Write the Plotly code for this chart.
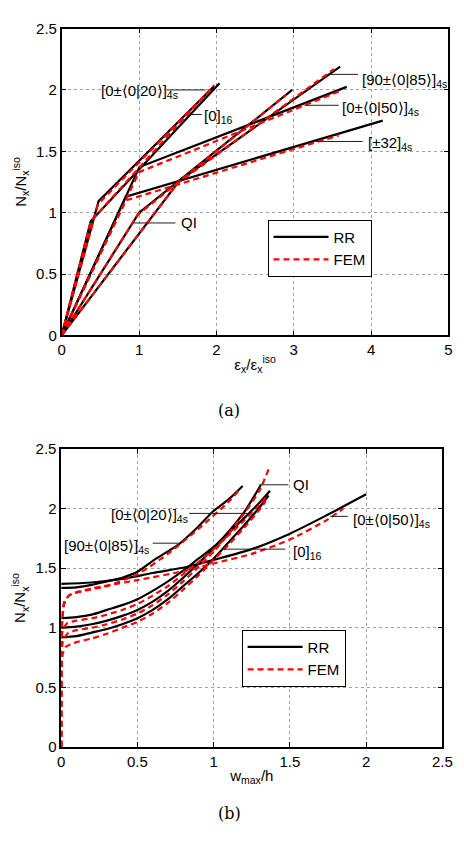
import plotly.graph_objects as go

# ---------------- data: panel (a)  N_x/N_x^iso vs eps_x/eps_x^iso ----------------
a_names = ["[0]16", "[0±20]4s", "[0±50]4s", "[±32]4s", "QI", "[90±85]4s"]
a_rr_x = [[0, 0.375, 2.04], [0, 0.477, 1.97], [0, 1.005, 3.685], [0, 0.83, 4.15], [0, 1.0, 2.98], [0, 1.52, 3.6]]
a_rr_y = [[0, 0.93, 2.055], [0, 1.094, 2.03], [0, 1.372, 2.025], [0, 1.13, 1.75], [0, 1.0, 2.0], [0, 1.26, 2.19]]
a_fem_x = [[0, 0.375, 1.97], [0, 0.47, 1.95], [0, 1.0, 3.63], [0, 0.83, 3.58], [0, 0.98, 2.9], [0, 1.5, 3.52]]
a_fem_y = [[0, 0.93, 2.04], [0, 1.07, 2.02], [0, 1.33, 2.0], [0, 1.10, 1.63], [0, 0.98, 1.96], [0, 1.24, 2.17]]

# ---------------- data: panel (b)  N_x/N_x^iso vs w_max/h ----------------
b_names = ["[90±85]4s", "[0±50]4s", "QI", "[0±20]4s", "[0]16"]
b_rr_x = [
    [0, 0.1, 0.2, 0.3, 0.4, 0.5, 0.61, 0.77, 0.9, 0.99, 1.1, 1.19],
    [0, 0.2, 0.4, 0.6, 0.82, 1.0, 1.25, 1.5, 1.75, 2.0],
    [0, 0.1, 0.2, 0.3, 0.4, 0.5, 0.6, 0.7, 0.8, 0.9, 1.0, 1.1, 1.2, 1.31],
    [0, 0.1, 0.2, 0.3, 0.4, 0.5, 0.6, 0.7, 0.8, 0.9, 1.0, 1.1, 1.2, 1.3, 1.37],
    [0, 0.1, 0.2, 0.3, 0.4, 0.5, 0.6, 0.7, 0.8, 0.9, 1.0, 1.1, 1.2, 1.3, 1.36],
]
b_rr_y = [
    [1.335, 1.34, 1.36, 1.39, 1.42, 1.47, 1.57, 1.70, 1.85, 1.97, 2.08, 2.19],
    [1.368, 1.38, 1.41, 1.46, 1.51, 1.57, 1.66, 1.79, 1.95, 2.12],
    [1.0, 1.01, 1.03, 1.06, 1.10, 1.15, 1.22, 1.31, 1.42, 1.54, 1.67, 1.81, 1.97, 2.2],
    [1.08, 1.09, 1.11, 1.15, 1.19, 1.24, 1.31, 1.39, 1.48, 1.58, 1.68, 1.80, 1.92, 2.05, 2.15],
    [0.92, 0.93, 0.96, 0.99, 1.03, 1.08, 1.15, 1.24, 1.35, 1.46, 1.58, 1.72, 1.86, 2.01, 2.11],
]
b_fem_x = [
    [0, 0.002, 0.01, 0.02, 0.05, 0.15, 0.3, 0.5, 0.7, 0.9, 1.1, 1.17],
    [0, 0.002, 0.01, 0.02, 0.06, 0.2, 0.5, 0.82, 1.0, 1.25, 1.5, 1.75, 1.85],
    [0, 0.002, 0.01, 0.04, 0.1, 0.2, 0.3, 0.4, 0.5, 0.6, 0.7, 0.8, 0.9, 1.0, 1.1, 1.2, 1.3, 1.36],
    [0, 0.002, 0.01, 0.04, 0.1, 0.2, 0.3, 0.4, 0.5, 0.6, 0.7, 0.8, 0.9, 1.0, 1.1, 1.2, 1.3, 1.36],
    [0, 0.002, 0.01, 0.03, 0.1, 0.2, 0.3, 0.4, 0.5, 0.6, 0.7, 0.8, 0.9, 1.0, 1.1, 1.2, 1.3, 1.34],
]
b_fem_y = [
    [0, 0.9, 1.1, 1.2, 1.27, 1.31, 1.35, 1.45, 1.62, 1.83, 2.06, 2.16],
    [0, 1.0, 1.15, 1.22, 1.28, 1.33, 1.40, 1.48, 1.54, 1.62, 1.74, 1.91, 2.0],
    [0, 0.7, 0.88, 0.95, 0.98, 1.0, 1.03, 1.07, 1.12, 1.19, 1.28, 1.39, 1.51, 1.64, 1.79, 1.96, 2.15, 2.33],
    [0, 0.8, 0.98, 1.04, 1.06, 1.08, 1.11, 1.15, 1.20, 1.27, 1.35, 1.45, 1.55, 1.66, 1.78, 1.90, 2.03, 2.12],
    [0, 0.6, 0.78, 0.84, 0.88, 0.91, 0.95, 1.0, 1.05, 1.12, 1.21, 1.32, 1.44, 1.57, 1.70, 1.84, 1.99, 2.06],
]

FONT = "Liberation Sans, Arial, Helvetica, sans-serif"
BLACK = "#000000"
RED = "#ff0000"

fig = go.Figure()

def add_panel(xs_rr, ys_rr, xs_fem, ys_fem, xa, ya, legend, shape):
    for i, (x, y) in enumerate(zip(xs_rr, ys_rr)):
        fig.add_trace(go.Scatter(x=x, y=y, mode="lines", xaxis=xa, yaxis=ya,
                                 line=dict(color=BLACK, width=2.2, shape=shape, smoothing=0.8),
                                 name="RR", legend=legend, showlegend=(i == 0), hoverinfo="skip"))
    for i, (x, y) in enumerate(zip(xs_fem, ys_fem)):
        fig.add_trace(go.Scatter(x=x, y=y, mode="lines", xaxis=xa, yaxis=ya,
                                 line=dict(color=RED, width=2.2, dash="6px,4px", shape=shape,
                                           smoothing=0.6),
                                 name="FEM", legend=legend, showlegend=(i == 0), hoverinfo="skip"))

add_panel(a_rr_x, a_rr_y, a_fem_x, a_fem_y, "x", "y", "legend", "linear")
add_panel(b_rr_x, b_rr_y, b_fem_x, b_fem_y, "x2", "y2", "legend2", "spline")

W, H = 464, 852
axis_common = dict(showline=True, linecolor="black", linewidth=1.5, mirror="ticks",
                   ticks="inside", ticklen=5, tickcolor="black",
                   showgrid=True, gridcolor="#a0a0a0", griddash="dot", gridwidth=1,
                   zeroline=False, tickfont=dict(family=FONT, size=15, color="black"))
TITLE_FONT = dict(family=FONT, size=15, color="black")

fig.update_layout(
    width=W, height=H, margin=dict(l=0, r=0, t=0, b=0),
    plot_bgcolor="white", paper_bgcolor="white",
    font=dict(family=FONT, size=15, color="black"),
    xaxis=dict(domain=[59.5 / W, 458.3 / W], range=[0, 5], dtick=1, anchor="y",
               title=dict(text="ε<sub>x</sub>/ε<sub>x</sub><sup>iso</sup>", standoff=2,
                          font=TITLE_FONT), **axis_common),
    yaxis=dict(domain=[1 - 333 / H, 1 - 20 / H], range=[0, 2.5], dtick=0.5, anchor="x",
               title=dict(text="N<sub>x</sub>/N<sub>x</sub><sup>iso</sup>", standoff=6,
                          font=TITLE_FONT), **axis_common),
    xaxis2=dict(domain=[59 / W, 452 / W], range=[0, 2.5], dtick=0.5, anchor="y2",
                title=dict(text="w<sub>max</sub>/h", standoff=2, font=TITLE_FONT),
                **axis_common),
    yaxis2=dict(domain=[1 - 753 / H, 1 - 449 / H], range=[0, 2.5], dtick=0.5, anchor="x2",
                title=dict(text="N<sub>x</sub>/N<sub>x</sub><sup>iso</sup>", standoff=6,
                           font=TITLE_FONT), **axis_common),
    legend=dict(x=271.7 / W, y=1 - 215 / H, xanchor="left", yanchor="top",
                bgcolor="white", bordercolor="black", borderwidth=1,
                font=dict(family=FONT, size=15), itemwidth=55, tracegroupgap=0),
    legend2=dict(x=245 / W, y=1 - 633.3 / H, xanchor="left", yanchor="top",
                 bgcolor="white", bordercolor="black", borderwidth=1,
                 font=dict(family=FONT, size=15), itemwidth=55, tracegroupgap=0),
    showlegend=True,
)

# ---------------- curve labels with leader lines ----------------
labels_a = [
    # text, text x, text y, anchor, leader x0, x1, leader y
    ("[0±⟨0|20⟩]<sub>4s</sub>", 1.535, 1.99, "right", 1.36, 1.86, 2.0),
    ("[0]<sub>16</sub>", 1.81, 1.78, "left", 1.67, 1.81, 1.80),
    ("[90±⟨0|85⟩]<sub>4s</sub>", 3.85, 2.08, "left", 3.43, 3.83, 2.127),
    ("[0±⟨0|50⟩]<sub>4s</sub>", 3.60, 1.85, "left", 3.14, 3.58, 1.875),
    ("[±32]<sub>4s</sub>", 3.93, 1.56, "left", 3.29, 3.89, 1.58),
    ("QI", 1.51, 0.916, "left", 0.925, 1.47, 0.916),
]
labels_b = [
    ("QI", 1.51, 2.20, "left", 1.30, 1.49, 2.20),
    ("[0±⟨0|20⟩]<sub>4s</sub>", 0.846, 1.94, "right", 0.84, 1.235, 1.96),
    ("[90±⟨0|85⟩]<sub>4s</sub>", 0.59, 1.68, "right", 0.60, 0.77, 1.71),
    ("[0]<sub>16</sub>", 1.51, 1.63, "left", 1.066, 1.47, 1.66),
    ("[0±⟨0|50⟩]<sub>4s</sub>", 1.90, 1.90, "left", 1.765, 1.88, 1.935),
]

def add_labels(labels, xr, yr):
    for text, tx, ty, anchor, lx0, lx1, ly in labels:
        fig.add_shape(type="line", xref=xr, yref=yr, x0=lx0, x1=lx1, y0=ly, y1=ly,
                      line=dict(color="#202020", width=1))
        fig.add_annotation(text=text, x=tx, y=ty, xref=xr, yref=yr, xanchor=anchor,
                           yanchor="middle", showarrow=False,
                           font=dict(family=FONT, size=15, color="black"))

add_labels(labels_a, "x", "y")
add_labels(labels_b, "x2", "y2")

# captions
SERIF = "DejaVu Serif, Liberation Serif, serif"
fig.add_annotation(text="(a)", x=232 / W, y=1 - 410 / H, xref="paper", yref="paper",
                   showarrow=False, font=dict(family=SERIF, size=16, color="black"))
fig.add_annotation(text="(b)", x=232 / W, y=1 - 833 / H, xref="paper", yref="paper",
                   showarrow=False, font=dict(family=SERIF, size=16, color="black"))

fig.write_html("out.html")
